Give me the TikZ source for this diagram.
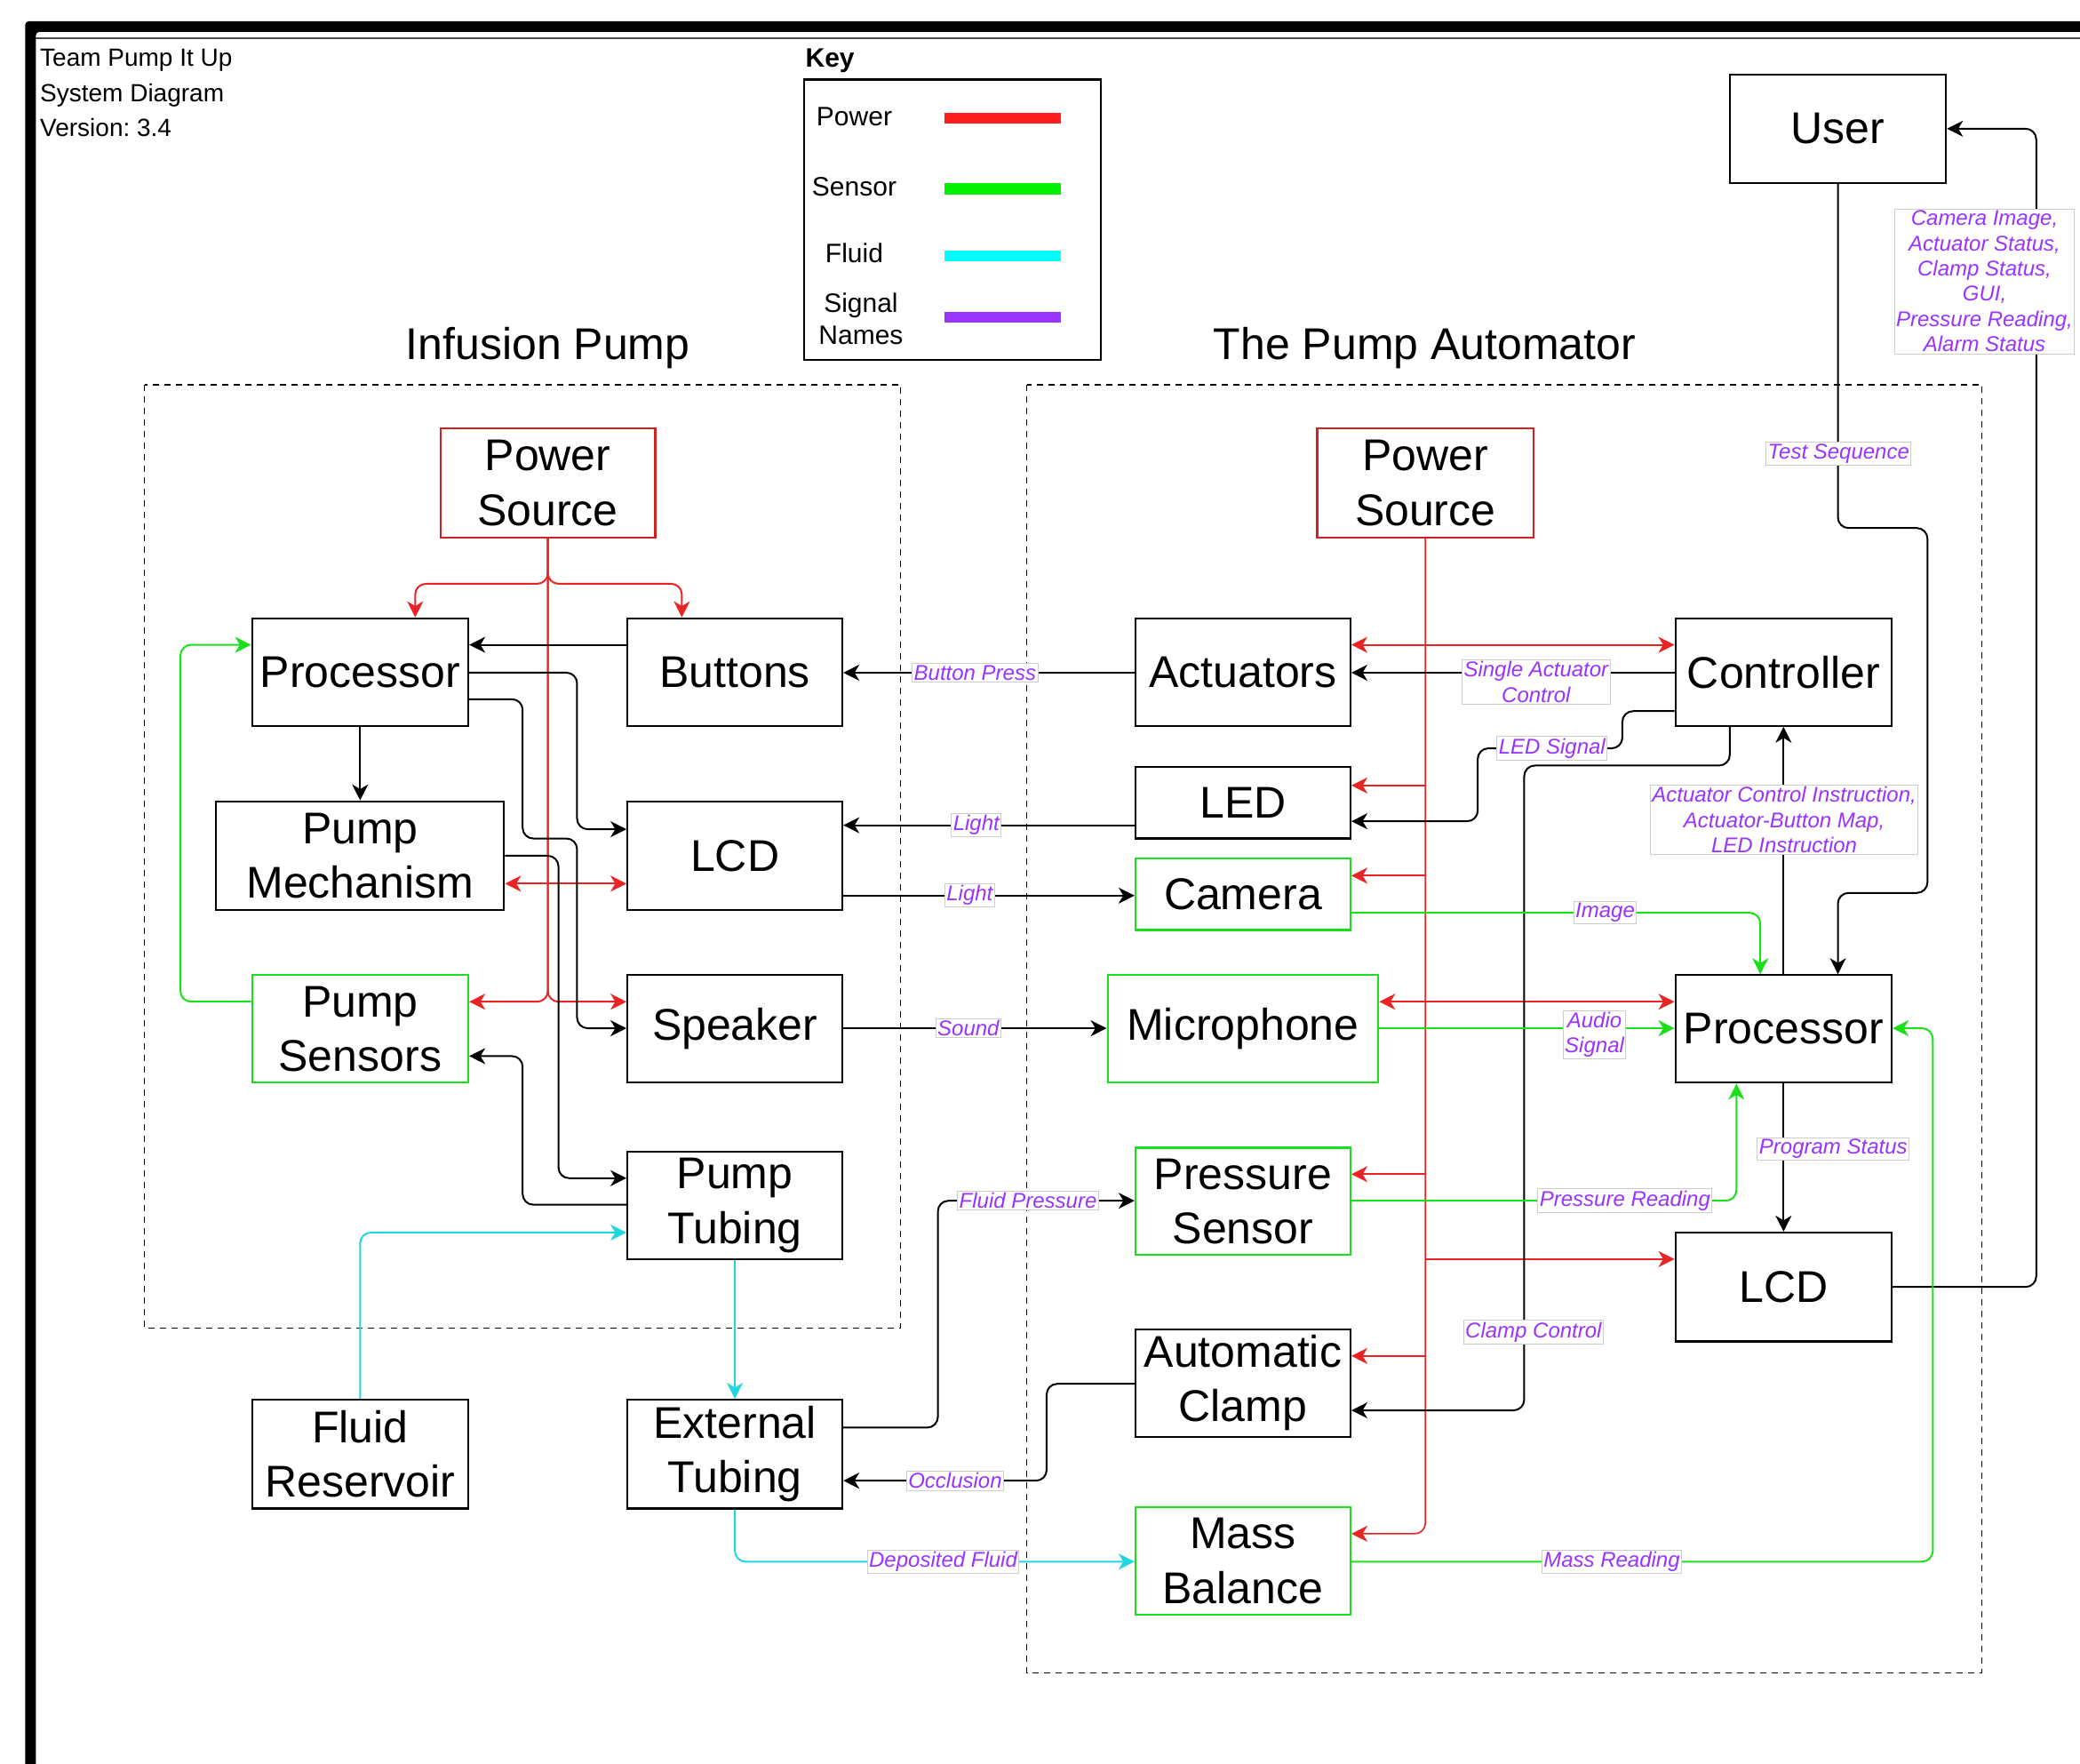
\documentclass[tikz,border=0pt]{standalone}
\usepackage{fontspec}
\setmainfont{Liberation Sans}
\usetikzlibrary{arrows.meta}
\frenchspacing
\definecolor{pred}{RGB}{235,35,35}
\definecolor{pgreen}{RGB}{25,225,25}
\definecolor{pcyan}{RGB}{30,215,225}
\definecolor{ppurple}{RGB}{153,51,255}
\definecolor{lblborder}{RGB}{205,205,205}
\newcommand\bx[7]{\node[#1, minimum width={(#5-#3)*0.7465pt}, minimum height={(#6-#4)*0.7465pt}] (#2) at ({(#3+#5)/2},{(#4+#6)/2}) {#7};}
\tikzset{
  >={Stealth[length=9pt,width=9pt,inset=2.7pt]},
  boxbase/.style={draw, line width=1.1pt, inner sep=0pt, align=center, fill=white,
    font=\fontsize{25}{30.6}\selectfont},
  bbox/.style={boxbase, draw=black},
  rbox/.style={boxbase, draw=pred!90!black},
  gbox/.style={boxbase, draw=pgreen},
  con/.style={line width=1pt, rounded corners=6pt},
  blk/.style={con, draw=black},
  pw/.style={con, draw=pred},
  sn/.style={con, draw=pgreen},
  fl/.style={con, draw=pcyan},
  lbl/.style={fill=white, draw=lblborder, line width=0.5pt, text=ppurple, inner xsep=1pt, inner ysep=1pt,
    align=center, font=\itshape\fontsize{12}{14.2}\selectfont},
  region/.style={draw=black, line width=0.7pt, dash pattern=on 3.5pt off 3pt},
  title/.style={font=\fontsize{25}{30}\selectfont, inner sep=0pt},
  keytxt/.style={font=\fontsize{15}{18}\selectfont, align=center, inner sep=0pt},
  keybar/.style={line width=6.3pt},
  info/.style={font=\fontsize{14}{17}\selectfont, anchor=base west, inner sep=0pt}
}
\begin{document}
\begin{tikzpicture}[x=0.7465pt,y=-0.7465pt]
\useasboundingbox (0,0) rectangle (1568,1329);
% frame
\fill[black, rounded corners=2pt] (19,1340) -- (19,16) -- (1580,16) -- (1580,24) -- (27,24) -- (27,1340) -- cycle;
\draw[black!70, line width=1pt] (27,28.5) -- (1568,28.5);
% info
\node[info] (t1) at (30,49.6) {Team Pump It Up};
\node[info] (t2) at (30,77) {System Diagram};
\node[info] (t3) at (30,103) {Version: 3.4};
% key
\node[keytxt, font=\bfseries\fontsize{15}{18}\selectfont, anchor=west] (keyt) at (607,46) {Key};
\draw[line width=1.1pt] (606,60) rectangle (830,271);
\node[keytxt] (k1) at (644,88) {Power};
\node[keytxt] (k2) at (644,141) {Sensor};
\node[keytxt] (k3) at (644,191) {Fluid};
\node[keytxt] (k4) at (649,240) {Signal\\Names};
\draw[keybar, draw={rgb,255:red,255;green,30;blue,30}] (712,89) -- (800,89);
\draw[keybar, draw={rgb,255:red,0;green,240;blue,0}] (712,142.5) -- (800,142.5);
\draw[keybar, draw={rgb,255:red,0;green,255;blue,255}] (712,193) -- (800,193);
\draw[keybar, draw={rgb,255:red,153;green,51;blue,255}] (712,239) -- (800,239);
% regions
\draw[region] (109,290) rectangle (679,1001);
\draw[region] (774,290) rectangle (1494,1261);
\node[title] (ti1) at (413,262) {Infusion Pump};
\node[title] (ti2) at (1074,262) {The Pump Automator};
% left boxes
\bx{rbox}{psL}{332}{323}{494}{405}{Power\\Source}
\bx{bbox}{procL}{190}{466}{353}{547}{Processor}
\bx{bbox}{btn}{473}{466}{635}{547}{Buttons}
\bx{bbox}{pmech}{163}{604}{380}{686}{Pump\\Mechanism}
\bx{bbox}{lcdL}{473}{604}{635}{686}{LCD}
\bx{gbox}{psens}{190}{735}{353}{816}{Pump\\Sensors}
\bx{bbox}{spk}{473}{735}{635}{816}{Speaker}
\bx{bbox}{ptub}{473}{868}{635}{949}{Pump\\Tubing}
\bx{bbox}{fres}{190}{1055}{353}{1137}{Fluid\\Reservoir}
\bx{bbox}{ext}{473}{1055}{635}{1137}{External\\Tubing}
% right boxes
\bx{rbox}{psR}{993}{323}{1156}{405}{Power\\Source}
\bx{bbox}{act}{856}{466}{1018}{547}{Actuators}
\bx{bbox}{ctrl}{1263}{466}{1426}{547}{Controller}
\bx{bbox}{led}{856}{578}{1018}{632}{LED}
\bx{gbox}{cam}{856}{647}{1018}{701}{Camera}
\bx{gbox}{mic}{835}{735}{1039}{816}{Microphone}
\bx{bbox}{procR}{1263}{735}{1426}{816}{Processor}
\bx{gbox}{psensr}{856}{865}{1018}{946}{Pressure\\Sensor}
\bx{bbox}{lcdR}{1263}{929}{1426}{1011}{LCD}
\bx{bbox}{clamp}{856}{1002}{1018}{1083}{Automatic\\Clamp}
\bx{gbox}{mass}{856}{1136}{1018}{1217}{Mass\\Balance}
\bx{bbox}{user}{1304}{56}{1467}{138}{User}
% ---- left power
\draw[pw,->] (psL.south) -- (psL.south |- 0,440) -- (313,440) -- (procL.north -| 313,0);
\draw[pw,->] (psL.south) -- (psL.south |- 0,440) -- (514,440) -- (btn.north -| 514,0);
\draw[pw,->] (psL.south) -- (psL.south |- 0,755) -- (psens.east |- 0,755);
\draw[pw,->] (psL.south) -- (psL.south |- 0,755) -- (spk.west |- 0,755);
\draw[pw,<->] (pmech.east |- 0,666) -- (lcdL.west |- 0,666);
% ---- left black
\draw[blk,->] (btn.west |- 0,486) -- (procL.east |- 0,486);
\draw[blk,->] (procL.east |- 0,507) -- (435,507) -- (435,625) -- (lcdL.west |- 0,625);
\draw[blk,->] (procL.east |- 0,527) -- (394,527) -- (394,632) -- (435,632) -- (435,775) -- (spk.west |- 0,775);
\draw[blk,->] (pmech.east |- 0,645) -- (421,645) -- (421,888) -- (ptub.west |- 0,888);
\draw[blk,->] (ptub.west |- 0,908) -- (394,908) -- (394,796) -- (psens.east |- 0,796);
\draw[blk,->] (procL.south) -- (pmech.north);
\draw[sn,->] (psens.west |- 0,755) -- (136,755) -- (136,486) -- (procL.west |- 0,486);
\draw[fl,->] (fres.north) -- (fres.north |- 0,929) -- (ptub.west |- 0,929);
\draw[fl,->] (ptub.south) -- (ext.north);
\draw[fl,->] (ext.south) -- (ext.south |- 0,1177) -- (mass.west |- 0,1177);
\draw[blk,->] (ext.east |- 0,1076) -- (707,1076) -- (707,905) -- (psensr.west |- 0,905);
\draw[blk,->] (clamp.west |- 0,1043) -- (789,1043) -- (789,1116) -- (ext.east |- 0,1116);
% ---- cross
\draw[blk,->] (act.west |- 0,507) -- (btn.east |- 0,507);
\draw[blk,->] (led.west |- 0,622) -- (lcdL.east |- 0,622);
\draw[blk,->] (lcdL.east |- 0,675) -- (cam.west |- 0,675);
\draw[blk,->] (spk.east |- 0,775) -- (mic.west |- 0,775);
% ---- right power
\draw[pw,line width=0.8pt,->] (psR.south) -- (psR.south |- 0,1156) -- (mass.east |- 0,1156);
\draw[pw,->] (psR.south |- 0,592) -- (led.east |- 0,592);
\draw[pw,->] (psR.south |- 0,660) -- (cam.east |- 0,660);
\draw[pw,->] (psR.south |- 0,885) -- (psensr.east |- 0,885);
\draw[pw,->] (psR.south |- 0,949) -- (lcdR.west |- 0,949);
\draw[pw,->] (psR.south |- 0,1022) -- (clamp.east |- 0,1022);
\draw[pw,<->] (act.east |- 0,486) -- (ctrl.west |- 0,486);
\draw[pw,<->] (mic.east |- 0,755) -- (procR.west |- 0,755);
% ---- right black
\draw[blk,->] (ctrl.west |- 0,507) -- (act.east |- 0,507);
\draw[blk,->] (ctrl.west |- 0,536) -- (1223,536) -- (1223,564) -- (1114,564) -- (1114,619) -- (led.east |- 0,619);
\draw[blk,->] (ctrl.south -| 1304,0) -- (1304,577) -- (1149,577) -- (1149,1063) -- (clamp.east |- 0,1063);
\draw[blk,->] (procR.north) -- (ctrl.south);
\draw[blk,->] (user.south) -- (user.south |- 0,398) -- (1453,398) -- (1453,673) -- (user.south |- 0,673) -- (procR.north -| user.south);
\draw[blk,->] (lcdR.east) -- (1535,970) -- (1535,97) -- (user.east);
\draw[blk,->] (procR.south) -- (lcdR.north);
% ---- right sensor
\draw[sn,->] (cam.east |- 0,688) -- (1327,688) -- (procR.north -| 1327,0);
\draw[sn,->] (mic.east |- 0,775) -- (procR.west |- 0,775);
\draw[sn,->] (psensr.east |- 0,905) -- (1309,905) -- (procR.south -| 1309,0);
\draw[sn,->] (mass.east |- 0,1177) -- (1457,1177) -- (1457,775) -- (procR.east |- 0,775);
% ---- labels
\node[lbl] (lbp) at (735,507) {Button Press};
\node[lbl] (llt1) at (736,622) {Light};
\node[lbl] (llt2) at (731,675) {Light};
\node[lbl] (lsnd) at (730,775) {Sound};
\node[lbl] (lfp) at (775,905) {Fluid Pressure};
\node[lbl] (locc) at (720,1116) {Occlusion};
\node[lbl] (ldf) at (711,1177) {Deposited Fluid};
\node[lbl] (lsac) at (1158,514) {Single Actuator\\Control};
\node[lbl] (lled) at (1170,564) {LED Signal};
\node[lbl] (laci) at (1345,618) {Actuator Control Instruction,\\Actuator-Button Map,\\LED Instruction};
\node[lbl] (limg) at (1210,688) {Image};
\node[lbl] (laud) at (1202,780) {Audio\\Signal};
\node[lbl] (lprs) at (1382,866) {Program Status};
\node[lbl] (lpr) at (1225,905) {Pressure Reading};
\node[lbl] (lcc) at (1156,1004) {Clamp Control};
\node[lbl] (lmr) at (1215,1177) {Mass Reading};
\node[lbl] (lts) at (1386,342) {Test Sequence};
\node[lbl] (lcam) at (1496,212) {Camera Image,\\Actuator Status,\\Clamp Status,\\GUI,\\Pressure Reading,\\Alarm Status};
\end{tikzpicture}
\end{document}
